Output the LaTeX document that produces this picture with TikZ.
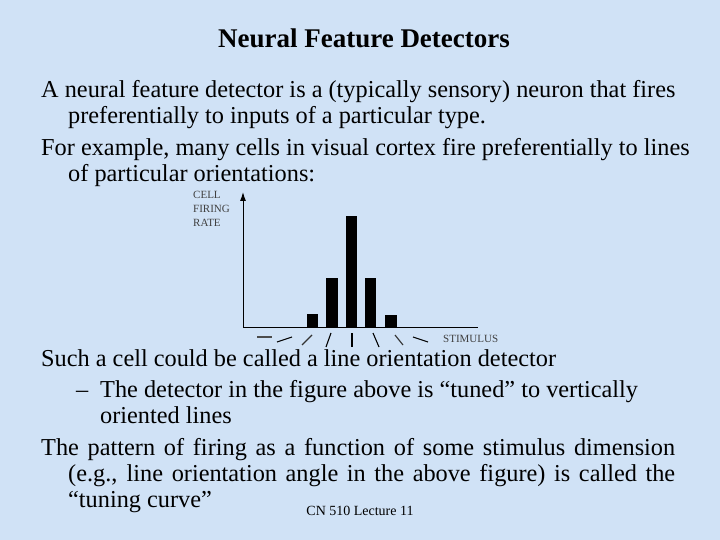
\documentclass[tikz,border=0pt]{standalone}
\usepackage{fontspec}
\setmainfont{Liberation Serif}
\usetikzlibrary{arrows.meta}
\definecolor{bgblue}{RGB}{208,226,246}
\begin{document}
\begin{tikzpicture}[x=1pt,y=-1pt,
  txt/.style={anchor=base west,inner sep=0pt,font=\fontsize{24.3}{28}\selectfont},
  lab/.style={inner sep=0pt,font=\fontsize{11}{12}\selectfont,text=black!75},
  bar/.style={fill=black},
  stim/.style={line width=1.1pt}]
\fill[bgblue] (0,0) rectangle (720,540);
\useasboundingbox (0,0) rectangle (720,540);
\node[inner sep=0pt,font=\bfseries\fontsize{27}{30}\selectfont] (title) at (364,38) {Neural Feature Detectors};
\node[txt] (l1) at (41,98) {A neural feature detector is a (typically sensory) neuron that fires};
\node[txt] (l2) at (68,124) {preferentially to inputs of a particular type.};
\node[txt] (l3) at (41,156) {For example, many cells in visual cortex fire preferentially to lines};
\node[txt] (l4) at (68,182) {of particular orientations:};
% figure
\coordinate (o) at (243,327);
\coordinate (ytop) at (243,192);
\coordinate (xend) at (478,327);
\draw[line width=1pt,-{Latex[length=9pt,width=6pt]}] (o) -- (ytop);
\draw[line width=1pt] (o) -- (xend);
\node[lab,anchor=west] (cell) at (193,195) {CELL};
\node[lab,anchor=west] (firing) at (193,209) {FIRING};
\node[lab,anchor=west] (rate) at (193,223) {RATE};
\node[lab,anchor=west] (stimulus) at (443,339) {STIMULUS};
\fill[bar] (307,314) rectangle (318,327);
\fill[bar] (326,278) rectangle (338,327);
\fill[bar] (346,216) rectangle (357,327);
\fill[bar] (365,278) rectangle (376,327);
\fill[bar] (385,315) rectangle (397,327);
\draw[stim,black!70] (257,337) -- (272,337);
\draw[stim] (277,342) -- (292,337);
\draw[stim,black!80] (302,345) -- (312,335);
\draw[stim] (326,347) -- (331,333);
\draw[stim] (352,333) -- (352,347);
\draw[stim] (373,333) -- (379,347);
\draw[stim,black!80] (395,335) -- (403,345);
\draw[stim] (413,337) -- (428,342);
\node[txt] (l5) at (41,366) {Such a cell could be called a line orientation detector};
\node[txt] (l6) at (76,397) {–};
\node[txt] (l6b) at (100,397) {The detector in the figure above is “tuned” to vertically};
\node[txt] (l7) at (100,423) {oriented lines};
\node[txt] (l8) at (41,455) {\makebox[634pt][s]{The pattern of firing as a function of some stimulus dimension}};
\node[txt] (l9) at (68,481) {\makebox[607pt][s]{(e.g., line orientation angle in the above figure) is called the}};
\node[txt] (l10) at (68,507) {“tuning curve”};
\node[inner sep=0pt,font=\fontsize{14}{16}\selectfont] (foot) at (360,511) {CN 510 Lecture 11};
\end{tikzpicture}
\end{document}
